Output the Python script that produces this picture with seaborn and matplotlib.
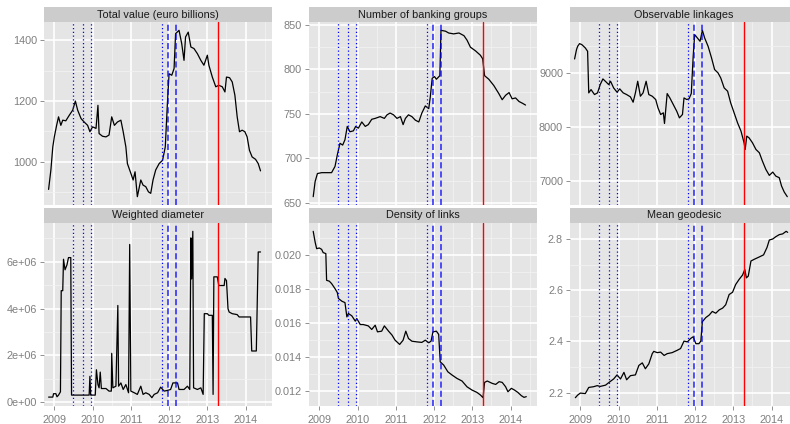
import pandas as pd
import seaborn as sns
import matplotlib.pyplot as plt
from matplotlib.patches import Rectangle
from matplotlib.ticker import FixedLocator, MultipleLocator, FuncFormatter

panels = ["Total value (euro billions)", "Number of banking groups", "Observable linkages",
          "Weighted diameter", "Density of links", "Mean geodesic"]

# policy event dates (decimal years)
dotted_dates = [2009.48, 2009.75, 2009.96, 2011.81]
dashed_dates = [2011.97, 2012.17]
red_dates = [2013.27]

# Total value (euro billions)
t_total = [2008.85, 2008.91, 2008.96, 2009.00, 2009.06, 2009.11, 2009.17, 2009.22, 2009.30, 2009.39,
           2009.48, 2009.55, 2009.61, 2009.70, 2009.78, 2009.87, 2009.93, 2010.00, 2010.09, 2010.14,
           2010.17, 2010.26, 2010.35, 2010.43, 2010.50, 2010.57, 2010.65, 2010.74, 2010.80, 2010.87,
           2010.91, 2011.00, 2011.06, 2011.11, 2011.17, 2011.26, 2011.32, 2011.39, 2011.46, 2011.52,
           2011.58, 2011.65, 2011.74, 2011.83, 2011.90, 2011.96, 2012.00, 2012.07, 2012.13, 2012.17,
           2012.26, 2012.33, 2012.39, 2012.43, 2012.50, 2012.57, 2012.65, 2012.74, 2012.83, 2012.91,
           2013.00, 2013.04, 2013.13, 2013.22, 2013.30, 2013.39, 2013.46, 2013.50, 2013.58, 2013.65,
           2013.72, 2013.78, 2013.84, 2013.91, 2013.98, 2014.04, 2014.10, 2014.17, 2014.26, 2014.33,
           2014.39]
total_value = [909, 973, 1049, 1082, 1120, 1148, 1120, 1137, 1135, 1153,
               1170, 1200, 1170, 1142, 1131, 1120, 1099, 1115, 1110, 1186,
               1093, 1084, 1082, 1088, 1148, 1120, 1131, 1137, 1099, 1049,
               994, 962, 940, 967, 885, 940, 923, 918, 901, 896,
               940, 973, 994, 1005, 1049, 1203, 1290, 1285, 1307, 1422,
               1433, 1389, 1334, 1411, 1427, 1378, 1373, 1356, 1334, 1318,
               1351, 1318, 1279, 1247, 1252, 1247, 1230, 1279, 1277, 1263,
               1219, 1148, 1099, 1104, 1099, 1082, 1038, 1016, 1008, 994,
               970]

# Number of banking groups
t_banks = [2008.84, 2008.89, 2008.95, 2009.06, 2009.19, 2009.32, 2009.41, 2009.47, 2009.54, 2009.61,
           2009.67, 2009.73, 2009.80, 2009.89, 2009.95, 2010.02, 2010.11, 2010.20, 2010.28, 2010.37,
           2010.46, 2010.59, 2010.70, 2010.77, 2010.85, 2010.94, 2011.03, 2011.12, 2011.19, 2011.25,
           2011.33, 2011.42, 2011.51, 2011.60, 2011.68, 2011.77, 2011.86, 2011.90, 2011.95, 2012.01,
           2012.06, 2012.15, 2012.18, 2012.30, 2012.38, 2012.51, 2012.65, 2012.78, 2012.86, 2012.95,
           2013.08, 2013.21, 2013.27, 2013.32, 2013.43, 2013.56, 2013.69, 2013.78, 2013.87, 2013.96,
           2014.04, 2014.13, 2014.22, 2014.31, 2014.39]
banking_groups = [657, 674, 683, 684, 684, 684, 691, 704, 717, 715,
                  721, 736, 730, 731, 736, 734, 741, 736, 738, 744,
                  745, 747, 745, 749, 751, 749, 745, 747, 738, 745,
                  749, 747, 743, 741, 751, 759, 756, 769, 790, 792,
                  789, 793, 844, 843, 841, 840, 841, 838, 833, 825,
                  821, 816, 812, 793, 789, 782, 773, 766, 771, 774,
                  767, 768, 764, 762, 760]

# Observable linkages
t_links = [2008.85, 2008.90, 2008.93, 2008.98, 2009.04, 2009.13, 2009.19, 2009.22, 2009.28, 2009.37,
           2009.45, 2009.52, 2009.59, 2009.68, 2009.74, 2009.79, 2009.87, 2009.96, 2010.03, 2010.12,
           2010.21, 2010.31, 2010.38, 2010.44, 2010.50, 2010.57, 2010.64, 2010.72, 2010.79, 2010.88,
           2010.97, 2011.03, 2011.10, 2011.17, 2011.20, 2011.27, 2011.34, 2011.43, 2011.52, 2011.59,
           2011.67, 2011.71, 2011.78, 2011.84, 2011.90, 2011.95, 2011.99, 2012.06, 2012.13, 2012.19,
           2012.25, 2012.34, 2012.43, 2012.51, 2012.60, 2012.67, 2012.76, 2012.85, 2012.93, 2013.02,
           2013.11, 2013.20, 2013.28, 2013.31, 2013.35, 2013.41, 2013.50, 2013.59, 2013.68, 2013.76,
           2013.85, 2013.94, 2014.03, 2014.11, 2014.20, 2014.26, 2014.33, 2014.41]
linkages = [9258, 9431, 9492, 9542, 9523, 9462, 9400, 8631, 8692, 8600,
            8631, 8785, 8889, 8828, 8785, 8846, 8723, 8643, 8705, 8631,
            8600, 8557, 8458, 8631, 8846, 8569, 8631, 8846, 8600, 8569,
            8508, 8354, 8231, 8262, 8065, 8618, 8538, 8415, 8292, 8169,
            8231, 8538, 8508, 8520, 8618, 9308, 9708, 9646, 9585, 9788,
            9646, 9492, 9277, 9062, 9000, 8908, 8723, 8662, 8446, 8262,
            8077, 7923, 7708, 7585, 7831, 7800, 7708, 7585, 7523, 7369,
            7215, 7105, 7166, 7092, 7062, 6908, 6797, 6711]

# Weighted diameter
t_diam = [2008.85, 2008.96, 2008.98, 2009.04, 2009.07, 2009.11, 2009.16, 2009.18, 2009.22, 2009.24,
          2009.28, 2009.33, 2009.37, 2009.43, 2009.45, 2009.91, 2009.93, 2009.95, 2010.07, 2010.10,
          2010.14, 2010.17, 2010.20, 2010.23, 2010.35, 2010.43, 2010.49, 2010.50, 2010.53, 2010.61,
          2010.66, 2010.68, 2010.74, 2010.80, 2010.87, 2010.94, 2010.97, 2011.00, 2011.09, 2011.17,
          2011.26, 2011.32, 2011.39, 2011.48, 2011.55, 2011.61, 2011.70, 2011.78, 2011.87, 2011.96,
          2012.04, 2012.10, 2012.22, 2012.26, 2012.39, 2012.48, 2012.54, 2012.57, 2012.59, 2012.62,
          2012.64, 2012.74, 2012.83, 2012.89, 2012.92, 2013.00, 2013.04, 2013.13, 2013.15, 2013.17,
          2013.26, 2013.30, 2013.44, 2013.46, 2013.50, 2013.54, 2013.57, 2013.65, 2013.78, 2013.83,
          2014.13, 2014.16, 2014.28, 2014.33, 2014.39]
diameter = [0.225e6, 0.225e6, 0.37e6, 0.37e6, 0.24e6, 0.31e6, 0.45e6, 4.76e6, 4.76e6, 6.10e6,
            5.65e6, 5.86e6, 6.17e6, 6.17e6, 0.31e6, 0.31e6, 1.11e6, 0.31e6, 0.31e6, 1.39e6,
            0.76e6, 0.62e6, 1.29e6, 0.59e6, 0.59e6, 0.48e6, 0.48e6, 2.09e6, 0.62e6, 0.69e6,
            4.13e6, 0.69e6, 0.83e6, 0.55e6, 0.76e6, 0.41e6, 6.73e6, 0.48e6, 0.41e6, 0.34e6,
            0.69e6, 0.34e6, 0.41e6, 0.34e6, 0.20e6, 0.34e6, 0.41e6, 0.65e6, 0.48e6, 0.51e6,
            0.55e6, 0.83e6, 0.83e6, 0.55e6, 0.55e6, 0.69e6, 0.55e6, 7.01e6, 5.26e6, 7.29e6,
            0.62e6, 0.55e6, 0.62e6, 0.34e6, 3.78e6, 3.78e6, 3.71e6, 3.71e6, 0.34e6, 5.35e6,
            5.35e6, 4.98e6, 4.98e6, 5.28e6, 5.19e6, 3.99e6, 3.85e6, 3.78e6, 3.74e6, 3.64e6,
            3.64e6, 2.19e6, 2.19e6, 6.41e6, 6.41e6]

# Density of links
t_dens = [2008.84, 2008.89, 2008.93, 2009.00, 2009.06, 2009.10, 2009.17, 2009.19, 2009.26, 2009.32,
          2009.41, 2009.47, 2009.50, 2009.59, 2009.67, 2009.72, 2009.76, 2009.85, 2009.94, 2009.98,
          2010.07, 2010.15, 2010.28, 2010.37, 2010.46, 2010.52, 2010.63, 2010.70, 2010.81, 2010.90,
          2010.98, 2011.10, 2011.19, 2011.26, 2011.33, 2011.42, 2011.55, 2011.68, 2011.77, 2011.86,
          2011.92, 2011.97, 2012.06, 2012.12, 2012.16, 2012.25, 2012.36, 2012.47, 2012.60, 2012.73,
          2012.86, 2012.99, 2013.12, 2013.21, 2013.28, 2013.32, 2013.39, 2013.52, 2013.61, 2013.70,
          2013.78, 2013.87, 2013.93, 2014.02, 2014.10, 2014.19, 2014.28, 2014.35, 2014.41]
density = [0.02137, 0.02074, 0.02035, 0.02039, 0.02031, 0.02012, 0.02006, 0.01849, 0.01844, 0.01830,
           0.01800, 0.01777, 0.01742, 0.01726, 0.01718, 0.01634, 0.01654, 0.01640, 0.01609, 0.01624,
           0.01589, 0.01589, 0.01581, 0.01560, 0.01585, 0.01546, 0.01550, 0.01581, 0.01550, 0.01527,
           0.01497, 0.01472, 0.01497, 0.01550, 0.01507, 0.01491, 0.01487, 0.01484, 0.01497, 0.01482,
           0.01491, 0.01546, 0.01550, 0.01531, 0.01370, 0.01351, 0.01311, 0.01292, 0.01272, 0.01257,
           0.01223, 0.01204, 0.01190, 0.01175, 0.01159, 0.01249, 0.01257, 0.01243, 0.01237, 0.01253,
           0.01249, 0.01223, 0.01194, 0.01214, 0.01204, 0.01190, 0.01171, 0.01161, 0.01165]

# Mean geodesic
t_geo = [2008.87, 2008.93, 2009.00, 2009.13, 2009.22, 2009.35, 2009.44, 2009.52, 2009.66, 2009.77,
         2009.87, 2009.96, 2010.05, 2010.14, 2010.21, 2010.31, 2010.44, 2010.53, 2010.62, 2010.70,
         2010.79, 2010.88, 2010.92, 2011.01, 2011.10, 2011.19, 2011.27, 2011.40, 2011.53, 2011.62,
         2011.71, 2011.80, 2011.88, 2011.95, 2012.02, 2012.10, 2012.15, 2012.19, 2012.28, 2012.37,
         2012.45, 2012.54, 2012.63, 2012.72, 2012.80, 2012.89, 2012.98, 2013.06, 2013.15, 2013.24,
         2013.30, 2013.34, 2013.39, 2013.46, 2013.55, 2013.68, 2013.79, 2013.88, 2013.94, 2014.03,
         2014.11, 2014.20, 2014.29, 2014.38, 2014.42]
geodesic = [2.180, 2.190, 2.198, 2.196, 2.220, 2.223, 2.227, 2.224, 2.229, 2.242,
            2.253, 2.269, 2.253, 2.279, 2.250, 2.266, 2.269, 2.306, 2.316, 2.293,
            2.312, 2.352, 2.361, 2.356, 2.358, 2.345, 2.352, 2.356, 2.365, 2.372,
            2.401, 2.398, 2.411, 2.418, 2.391, 2.391, 2.401, 2.477, 2.493, 2.503,
            2.517, 2.510, 2.523, 2.530, 2.543, 2.583, 2.592, 2.622, 2.642, 2.659,
            2.681, 2.648, 2.655, 2.714, 2.721, 2.730, 2.738, 2.767, 2.796, 2.800,
            2.809, 2.817, 2.820, 2.830, 2.826]

series = [(t_total, total_value), (t_banks, banking_groups), (t_links, linkages),
          (t_diam, diameter), (t_dens, density), (t_geo, geodesic)]
df = pd.concat([pd.DataFrame({"date": t, "value": v, "panel": name})
                for name, (t, v) in zip(panels, series)], ignore_index=True)

sns.set_theme(style="darkgrid", rc={
    "axes.facecolor": "#E5E5E5", "grid.color": "white", "axes.edgecolor": "#E5E5E5"})
plt.rcParams["font.family"] = ["Liberation Sans", "DejaVu Sans"]

g = sns.relplot(data=df, x="date", y="value", col="panel", col_wrap=3, kind="line",
                color="black", linewidth=0.9, errorbar=None, col_order=panels,
                facet_kws={"sharey": False, "sharex": True}, height=2, aspect=1.2)
g.figure.set_size_inches(7.9, 4.24)
g.set_titles("")
g.set_axis_labels("", "")

W, H = 790, 424
lefts = [44, 309, 570]
y_ticks = [[1000, 1200, 1400], [650, 700, 750, 800, 850], [7000, 8000, 9000],
           [0, 2e6, 4e6, 6e6], [0.012, 0.014, 0.016, 0.018, 0.020], [2.2, 2.4, 2.6, 2.8]]
y_fmt = [lambda v, p: f"{v:.0f}", lambda v, p: f"{v:.0f}", lambda v, p: f"{v:.0f}",
         lambda v, p: f"{v:.0e}", lambda v, p: f"{v:.3f}", lambda v, p: f"{v:.1f}"]

for i, ax in enumerate(g.axes.flat):
    row, col = divmod(i, 3)
    top = 22 if row == 0 else 223
    ax.set_position([lefts[col] / W, (H - top - 183) / H, 228 / W, 183 / H])
    ax.set_xlim(2008.73, 2014.69)
    ax.margins(y=0.05)
    for s in ax.spines.values():
        s.set_visible(False)

    for d in dotted_dates:
        ax.axvline(d, color="blue", linestyle=(0, (1, 2)), linewidth=0.9)
    for d in dashed_dates:
        ax.axvline(d, color="blue", linestyle=(0, (4, 2)), linewidth=1.1, alpha=0.85)
    for d in red_dates:
        ax.axvline(d, color="red", linewidth=1.0)

    ax.xaxis.set_major_locator(FixedLocator([2009, 2010, 2011, 2012, 2013, 2014]))
    ax.xaxis.set_minor_locator(MultipleLocator(0.5))
    ax.xaxis.set_major_formatter(FuncFormatter(lambda v, p: f"{v:.0f}"))
    yt = y_ticks[i]
    ax.yaxis.set_major_locator(FixedLocator(yt))
    ax.yaxis.set_minor_locator(MultipleLocator((yt[1] - yt[0]) / 2))
    ax.yaxis.set_major_formatter(FuncFormatter(y_fmt[i]))
    ax.grid(which="major", color="white", linewidth=1.2)
    ax.grid(which="minor", color="#F2F2F2", linewidth=0.6)
    ax.tick_params(which="major", length=3, width=0.6, color="#7F7F7F", labelcolor="#7F7F7F",
                   labelsize=7.8, pad=2, left=True, bottom=(row == 1))
    ax.tick_params(axis="x", which="major", pad=3.5)
    ax.tick_params(which="minor", length=0)

    ax.add_patch(Rectangle((0, 1), 1, 15 / 183, transform=ax.transAxes, facecolor="#CCCCCC",
                           edgecolor="none", clip_on=False))
    ax.text(0.5, 1 + 7.5 / 183, panels[i], transform=ax.transAxes, ha="center", va="center",
            fontsize=7.8, color="#1A1A1A")

plt.savefig("out.png", dpi=100)
